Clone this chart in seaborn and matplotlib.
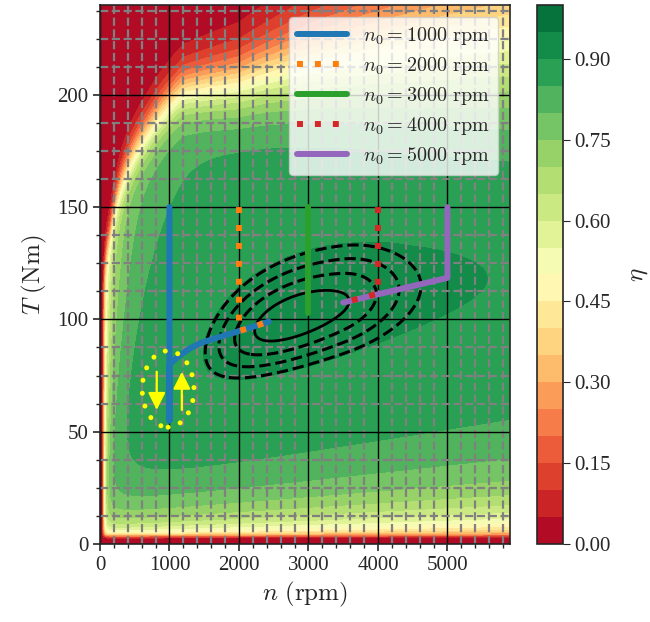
import numpy as np
import matplotlib
matplotlib.use("Agg")
import matplotlib.pyplot as plt
import seaborn as sns
from matplotlib.patches import Ellipse
from matplotlib.ticker import MultipleLocator, FormatStrFormatter

# ---------------- data ----------------
speed_max = 5900          # rpm, x-axis limit
torque_max = 240          # Nm, y-axis limit
eta_levels = np.linspace(0.0, 1.0, 21)
cbar_ticks = [0.00, 0.15, 0.30, 0.45, 0.60, 0.75, 0.90]

# efficiency-map loss model, g = (loss torque)/T, eta = 1/(1+g)   (nu = n/1000)
loss_a = [4.45, 0.84]            # friction + iron:  A(nu)/T
loss_b = [3.647e-6, -0.2538e-6]  # load dependent:   B(nu)*T^2
loss_c = [6.7e-4, 2.36]          # low-speed copper: C*exp(-nu/nu0)/nu * T
# saturation: (T/Tb)^p, Tb = torque where the saturation loss equals the output
sat_nu = [0.05, 0.15, 0.30, 0.70, 1.20, 2.00, 3.00, 4.50, 6.00]
sat_tb = [115., 136., 158., 183., 201., 205., 214., 222., 229.]
sat_p = [23.0, 27.0, 29.0, 30.0, 29.0, 23.5, 17.0, 12.0, 9.5]
n_cut = 60.0                     # low-speed cut-off (rpm)
t_cut = 3.6                      # low-torque cut-off (Nm)

# black contour lines: second map with an extra high-speed loss
hs_loss = [0.0022, 3.5]
contour_offsets_dashed = [0.0049, 0.0031, 0.0017]
contour_offsets_solid = [0.00065]

# operating trajectories
labels = [r"$n_0 = 1000\ \mathrm{rpm}$", r"$n_0 = 2000\ \mathrm{rpm}$",
          r"$n_0 = 3000\ \mathrm{rpm}$", r"$n_0 = 4000\ \mathrm{rpm}$",
          r"$n_0 = 5000\ \mathrm{rpm}$"]
path_n_1000 = [1000, 1000, 1000, 1150, 1300, 1450, 1700, 1970, 2200, 2430]
path_T_1000 = [150, 55, 80, 84.0, 87.2, 89.5, 92.0, 94.5, 96.7, 99.0]
path_n_2000 = [2000, 2000, 2200, 2430]
path_T_2000 = [150, 94.8, 96.7, 99.0]
path_n_3000 = [3000, 3000]
path_T_3000 = [150, 103]
path_n_4000 = [4000, 4000, 3500]
path_T_4000 = [150, 111.5, 107.5]
path_n_5000 = [5000, 5000, 3500]
path_T_5000 = [150, 118.5, 107.5]

# yellow highlight
ellipse_center = (980, 69)
ellipse_size = (745, 34)
arrow_down_n, arrow_down_T = 817, (76.7, 59.7)
arrow_up_n, arrow_up_T = 1178, (59.7, 76.7)

# ---------------- style ----------------
sns.set_style("ticks")
plt.rcParams["font.family"] = ["Liberation Serif", "DejaVu Serif"]
plt.rcParams["mathtext.fontset"] = "cm"
plt.rcParams["xtick.direction"] = "out"
plt.rcParams["ytick.direction"] = "out"

fig = plt.figure(figsize=(6.5, 6.22), dpi=100)
ax = fig.add_axes([0.1538, 0.1254, 0.6308, 0.8666])
cax = fig.add_axes([0.826, 0.1254, 0.040, 0.8666])

# ---------------- efficiency field ----------------
n = np.linspace(0.5, speed_max, 800)
T = np.linspace(0.01, torque_max, 700)
N, TT = np.meshgrid(n, T)
nu = N / 1000.0
A = loss_a[0] + loss_a[1] * nu
B = loss_b[0] + loss_b[1] * nu
Cc = loss_c[0] * np.exp(-nu / loss_c[1]) / nu
lnu = np.log(nu)
Tb = np.interp(lnu, np.log(sat_nu), sat_tb)
Pb = np.interp(lnu, np.log(sat_nu), sat_p)
g = A / TT + B * TT**2 + Cc * TT + (TT / Tb) ** Pb
f_n = 1.0 / (1.0 + (n_cut / N) ** 4)
f_T = 1.0 / (1.0 + (t_cut / TT) ** 6)
eta = np.clip(f_n * f_T / (1.0 + g), 0, 1)
g_lines = g + hs_loss[0] * np.maximum(nu - hs_loss[1], 0) ** 2
eta_lines = np.clip(f_n * f_T / (1.0 + g_lines), 0, 1)

cf = ax.contourf(N, TT, eta, levels=eta_levels, cmap="RdYlGn", zorder=0)
peak = eta_lines.max()
ax.contour(N, TT, eta_lines, levels=sorted(peak - np.array(contour_offsets_dashed)),
           colors="k", linestyles="--", linewidths=2.2, zorder=2.2)
ax.contour(N, TT, eta_lines, levels=[peak - contour_offsets_solid[0]],
           colors="k", linestyles="-", linewidths=2.0, zorder=2.2)

# ---------------- trajectories ----------------
colors = sns.color_palette("tab10", 5)
paths = [(path_n_1000, path_T_1000), (path_n_2000, path_T_2000), (path_n_3000, path_T_3000),
         (path_n_4000, path_T_4000), (path_n_5000, path_T_5000)]
styles = ["-", (0, (1, 2)), "-", (0, (1, 2)), "-"]
zords = [3, 4, 3, 4, 3]
for (pn, pt), lab, col, ls, z in zip(paths, labels, colors, styles, zords):
    sns.lineplot(x=pn, y=pt, sort=False, estimator=None, color=col, lw=4.3,
                 linestyle=ls, label=lab, ax=ax, zorder=z)

el = Ellipse(ellipse_center, ellipse_size[0], ellipse_size[1], fill=False,
             edgecolor="yellow", lw=3.6, linestyle=(0, (0.01, 2.6)), zorder=5)
el.set_capstyle("round")
ax.add_patch(el)
for xn, (t0, t1) in [(arrow_down_n, arrow_down_T), (arrow_up_n, arrow_up_T)]:
    ax.annotate("", xy=(xn, t1), xytext=(xn, t0),
                arrowprops=dict(arrowstyle="-|>", color="yellow", lw=1.6, mutation_scale=26,
                                shrinkA=0, shrinkB=0), zorder=5)

# ---------------- axes ----------------
ax.set_xlim(0, speed_max)
ax.set_ylim(0, torque_max)
ax.xaxis.set_major_locator(MultipleLocator(1000))
ax.xaxis.set_minor_locator(MultipleLocator(200))
ax.yaxis.set_major_locator(MultipleLocator(50))
ax.yaxis.set_minor_locator(MultipleLocator(12.5))
ax.grid(which="major", color="black", linestyle="-", linewidth=1.0)
ax.grid(which="minor", color="gray", linestyle="--", linewidth=1.6)
ax.tick_params(which="major", length=5, width=1.2, labelsize=15)
ax.tick_params(which="minor", length=3, width=1.0)
ax.set_xlabel(r"$n\ (\mathrm{rpm})$", fontsize=18, labelpad=4)
ax.set_ylabel(r"$T\ (\mathrm{Nm})$", fontsize=18, labelpad=6)
for s in ax.spines.values():
    s.set_linewidth(1.2)

leg = ax.legend(loc="upper right", fontsize=14.5, handlelength=2.5, labelspacing=0.4,
                handletextpad=0.8, borderpad=0.4, framealpha=0.8, borderaxespad=0.6)

cb = fig.colorbar(cf, cax=cax, ticks=cbar_ticks, format=FormatStrFormatter("%.2f"))
cb.set_label(r"$\eta$", fontsize=18, labelpad=12)
cb.ax.tick_params(labelsize=15, length=5)
cb.outline.set_linewidth(1.2)

fig.savefig("out.png", dpi=100)
